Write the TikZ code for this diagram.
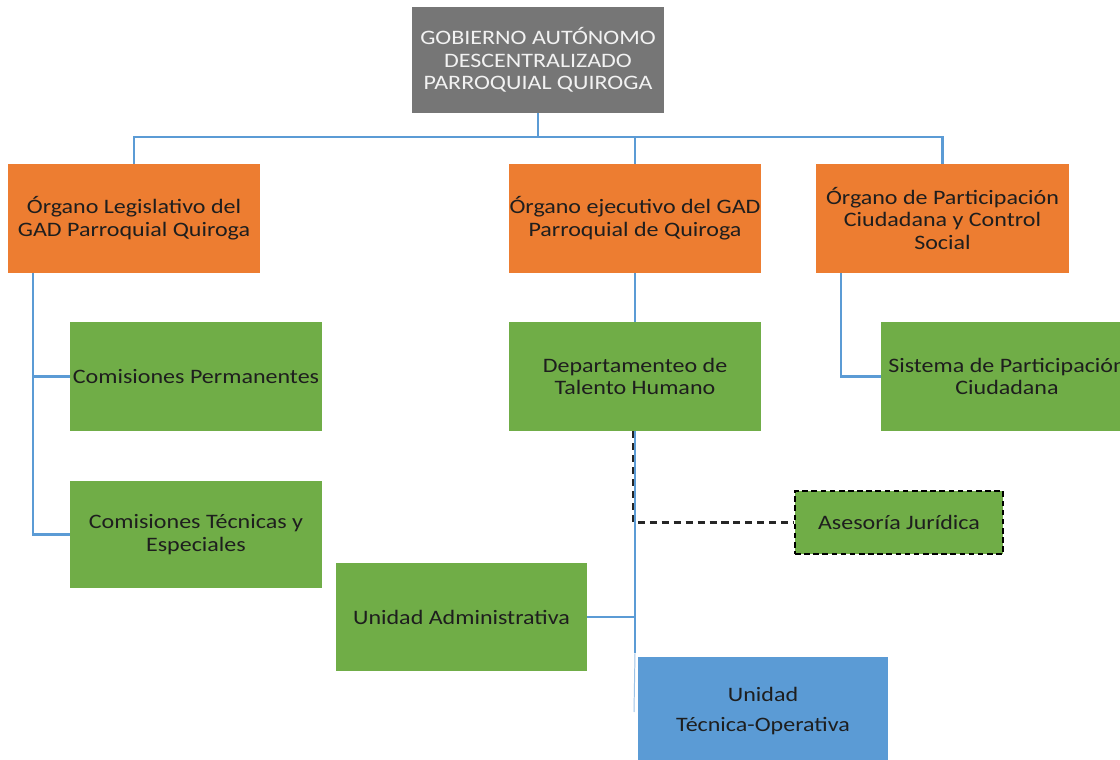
\documentclass[tikz,border=0pt]{standalone}
\usepackage{fontspec}
\setmainfont{Carlito}[FakeStretch=1.17]
\definecolor{boxgray}{HTML}{767676}
\definecolor{boxorange}{HTML}{ED7D31}
\definecolor{boxgreen}{HTML}{70AD47}
\definecolor{boxblue}{HTML}{5B9BD5}
\definecolor{linkblue}{HTML}{5B9BD5}
\definecolor{txtdark}{HTML}{1E1E1E}
\definecolor{txtlight}{HTML}{F2F2F2}
\tikzset{
  x=0.025cm, y=-0.025cm,
  base/.style={rectangle, inner sep=0pt, align=center, text=txtdark,
    font=\fontsize{14.6pt}{16.1pt}\selectfont, minimum width=6.3cm, minimum height=2.725cm},
  topbox/.style={base, fill=boxgray, text=txtlight, minimum height=2.65cm},
  orgbox/.style={base, fill=boxorange},
  unitbox/.style={base, fill=boxgreen},
  bluebox/.style={base, fill=boxblue},
  dashbox/.style={base, fill=boxgreen, draw=black, dash pattern=on 4pt off 2.5pt, line width=1.4pt,
    minimum width=5.2cm, minimum height=1.575cm},
  link/.style={draw=linkblue, line width=1.8pt},
  thinlink/.style={draw=linkblue!60, line width=0.7pt},
  dlink/.style={draw=black!85, dash pattern=on 5pt off 3.5pt, line width=1.5pt}
}
\begin{document}
\begin{tikzpicture}
\clip (0,0) rectangle (1120,760);
\useasboundingbox (0,0) rectangle (1120,760);
\fill[white] (0,0) rectangle (1120,760);

\node[topbox] (top) at (538,60) {GOBIERNO AUTÓNOMO\\DESCENTRALIZADO\\PARROQUIAL QUIROGA};

\node[orgbox] (o1) at (134,218.5) {Órgano Legislativo del\\GAD Parroquial Quiroga};
\node[orgbox] (o2) at (635,218.5) {Órgano ejecutivo del GAD\\Parroquial de Quiroga};
\node[orgbox] (o3) at (942.5,218.5) {Órgano de Participación\\Ciudadana y Control\\Social};

\node[unitbox] (c1) at (196,376.5) {Comisiones Permanentes};
\node[unitbox, minimum height=2.675cm] (c2) at (196,534.5) {Comisiones Técnicas y\\Especiales};
\node[unitbox] (dep) at (635,376.5) {Departamenteo de\\Talento Humano};
\node[unitbox] (sis) at (1007,376.5) {Sistema de Participación\\Ciudadana};
\node[dashbox] (as) at (899,522.5) {Asesoría Jurídica};
\node[unitbox, minimum width=6.275cm, minimum height=2.7cm] (ua) at (461.5,617) {Unidad Administrativa};
\node[bluebox, minimum width=6.25cm, minimum height=2.7cm, font=\fontsize{14.6pt}{22pt}\selectfont] (ut) at (763,711) {Unidad\\Técnica-Operativa};

% top level bus
\coordinate (bus) at (538,137);
\draw[link] (top.south) -- (bus);
\draw[link] (o1.north) -- (o1.north |- bus) -- (o3.north |- bus) -- (o3.north);
\draw[link] (o2.north) -- (o2.north |- bus);

% left branch
\coordinate (lsp) at (33,273);
\draw[link] (lsp) |- (c1.west);
\draw[link] (lsp) |- (c2.west);

% right branch
\coordinate (rsp) at (841,273);
\draw[link] (rsp) |- (sis.west);

% middle branch
\draw[link] (o2.south) -- (dep.north);
\draw[dlink] ([xshift=-0.04cm]dep.south) |- (as.west);
\coordinate (mend) at (635,653);
\draw[link] (dep.south) -- (mend);
\draw[link] (ua.east) -- (ua.east -| mend);
\coordinate (tend) at (634,712);
\draw[thinlink] (mend) -- (tend);
\end{tikzpicture}
\end{document}
